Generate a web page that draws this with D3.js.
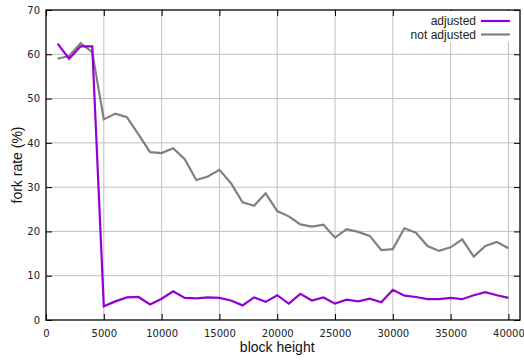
<!DOCTYPE html>
<html>
<head>
<meta charset="utf-8">
<script src="https://cdn.jsdelivr.net/npm/d3@7"></script>
<style>
  body { margin: 0; background: #fff; }
  svg { display: block; }
</style>
</head>
<body>
<div id="chart"></div>
<script>
// block heights (every 1000)
var heights = d3.range(1000, 40001, 1000);

var adjusted = [62.4, 59.0, 61.8, 61.8, 3.1, 4.2, 5.1, 5.2, 3.5, 4.8,
  6.5, 5.0, 4.9, 5.1, 5.0, 4.4, 3.3, 5.1, 4.1, 5.6,
  3.7, 5.9, 4.4, 5.1, 3.7, 4.6, 4.2, 4.8, 4.0, 6.8,
  5.5, 5.2, 4.7, 4.7, 5.0, 4.7, 5.6, 6.3, 5.6, 5.0];

var notAdjusted = [59.0, 59.6, 62.5, 60.5, 45.3, 46.6, 45.8, 41.9, 37.9, 37.7,
  38.8, 36.3, 31.6, 32.4, 33.9, 30.9, 26.6, 25.8, 28.6, 24.6,
  23.4, 21.6, 21.1, 21.5, 18.6, 20.5, 19.9, 19.0, 15.8, 16.0,
  20.7, 19.7, 16.7, 15.6, 16.4, 18.2, 14.3, 16.7, 17.6, 16.2];

var xTicks = d3.range(0, 40001, 5000);
var yTicks = d3.range(0, 71, 10);

var seriesNames = ["adjusted", "not adjusted"];
var seriesColors = ["#9400d3", "#808080"];

var W = 524, H = 360;
var margin = {top: 10, right: 4, bottom: 40, left: 46};
var width = W - margin.left - margin.right,
    height = H - margin.top - margin.bottom;

var svg = d3.select("#chart").append("svg")
    .attr("width", W).attr("height", H);
var g = svg.append("g")
    .attr("transform", "translate(" + margin.left + "," + margin.top + ")");

var x = d3.scaleLinear().domain([0, 41000]).range([0, width]);
var y = d3.scaleLinear().domain([0, 70]).range([height, 0]);

// grid
g.append("g").selectAll("line").data(xTicks.slice(1)).join("line")
  .attr("x1", d => x(d)).attr("x2", d => x(d))
  .attr("y1", 0).attr("y2", height)
  .attr("stroke", "#c0c0c0").attr("stroke-width", 1);
g.append("g").selectAll("line").data(yTicks.slice(1, -1)).join("line")
  .attr("x1", 0).attr("x2", width)
  .attr("y1", d => y(d)).attr("y2", d => y(d))
  .attr("stroke", "#c0c0c0").attr("stroke-width", 1);

// axes, ticks pointing inward
var xAxis = g.append("g")
  .attr("transform", "translate(0," + height + ")")
  .call(d3.axisBottom(x).tickValues(xTicks).tickSize(-6).tickPadding(10).tickFormat(d3.format("d")));
var yAxis = g.append("g")
  .call(d3.axisLeft(y).tickValues(yTicks).tickSize(-6).tickPadding(6));
var xTop = g.append("g")
  .call(d3.axisTop(x).tickValues(xTicks).tickSize(-6).tickFormat(""));
var yRight = g.append("g")
  .attr("transform", "translate(" + width + ",0)")
  .call(d3.axisRight(y).tickValues(yTicks).tickSize(-6).tickFormat(""));

[xAxis, yAxis, xTop, yRight].forEach(function(a) {
  a.select(".domain").remove();
  a.selectAll(".tick line").attr("stroke", "#000");
  a.selectAll("text")
    .style("font-family", "'DejaVu Sans', sans-serif")
    .style("font-size", "10px")
    .attr("fill", "#222");
});

// border
g.append("rect")
  .attr("width", width).attr("height", height)
  .attr("fill", "none").attr("stroke", "#000").attr("stroke-width", 1.3);

// lines
var line = d3.line()
  .x(function(d, i) { return x(heights[i]); })
  .y(function(d) { return y(d); });

[notAdjusted, adjusted].forEach(function(s, k) {
  g.append("path")
    .datum(s)
    .attr("fill", "none")
    .attr("stroke", k == 0 ? seriesColors[1] : seriesColors[0])
    .attr("stroke-width", 2.2)
    .attr("stroke-linejoin", "miter")
    .attr("d", line);
});

// legend
var leg = g.append("g");
leg.append("rect")
  .attr("x", width - 112).attr("y", 1)
  .attr("width", 110).attr("height", 31)
  .attr("fill", "#fff");
seriesNames.forEach(function(n, i) {
  var ly = 11 + i * 13.5;
  leg.append("text")
    .attr("x", width - 44).attr("y", ly)
    .attr("dy", "0.35em")
    .attr("text-anchor", "end")
    .style("font-family", "'Liberation Sans', Arial, sans-serif")
    .style("font-size", "12px")
    .attr("fill", "#222")
    .text(n);
  leg.append("line")
    .attr("x1", width - 39).attr("x2", width - 10)
    .attr("y1", ly).attr("y2", ly)
    .attr("stroke", seriesColors[i]).attr("stroke-width", 2.2);
});

// axis labels
svg.append("text")
  .attr("x", margin.left + x(20000)).attr("y", 352)
  .attr("text-anchor", "middle")
  .style("font-family", "'Liberation Sans', Arial, sans-serif")
  .style("font-size", "14px")
  .attr("fill", "#111")
  .text("block height");

svg.append("text")
  .attr("transform", "translate(22," + (margin.top + height / 2) + ") rotate(-90)")
  .attr("text-anchor", "middle")
  .style("font-family", "'Liberation Sans', Arial, sans-serif")
  .style("font-size", "14px")
  .attr("fill", "#111")
  .text("fork rate (%)");
</script>
</body>
</html>
